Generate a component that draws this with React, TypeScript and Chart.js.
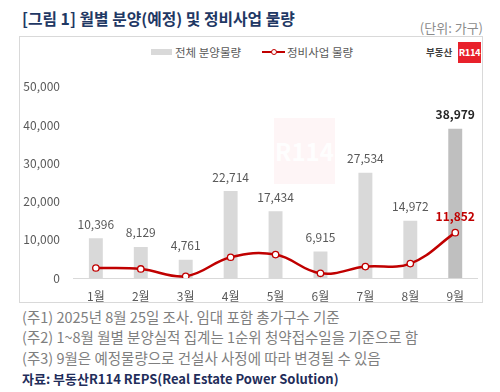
import React, { useEffect, useRef } from "react";
import { Chart, registerables } from "chart.js";

Chart.register(...registerables);

const categories = ["1월", "2월", "3월", "4월", "5월", "6월", "7월", "8월", "9월"];
const totalSupply = [10396, 8129, 4761, 22714, 17434, 6915, 27534, 14972, 38979];
const redevelopment = [2620, 2360, 450, 5420, 6120, 1230, 2980, 3770, 11852];
const yTicks = [0, 10000, 20000, 30000, 40000, 50000];

const FONT = "'Noto Sans CJK KR', 'Noto Sans', sans-serif";
const fmt = (v: number) => v.toLocaleString("en-US");

const labelPlugin = {
  id: "valueLabels",
  afterDatasetsDraw(chart: any) {
    const ctx = chart.ctx;
    ctx.save();
    ctx.textAlign = "center";
    ctx.textBaseline = "middle";
    const barMeta = chart.getDatasetMeta(0);
    barMeta.data.forEach((el: any, i: number) => {
      const last = i === totalSupply.length - 1;
      ctx.font = `${last ? "bold " : ""}12px ${FONT}`;
      ctx.fillStyle = last ? "#262626" : "#595959";
      ctx.fillText(fmt(totalSupply[i]), el.x, el.y - 14);
    });
    const lineMeta = chart.getDatasetMeta(1);
    const li = redevelopment.length - 1;
    const p = lineMeta.data[li];
    ctx.font = `bold 12px ${FONT}`;
    ctx.fillStyle = "#c00000";
    ctx.fillText(fmt(redevelopment[li]), p.x, p.y - 16);
    ctx.restore();
  },
};

export default function App() {
  const ref = useRef<HTMLCanvasElement | null>(null);

  useEffect(() => {
    if (!ref.current) return;
    const chart = new Chart(ref.current, {
      type: "bar",
      data: {
        labels: categories,
        datasets: [
          {
            type: "bar",
            label: "전체 분양물량",
            data: totalSupply,
            backgroundColor: totalSupply.map((_, i) =>
              i === totalSupply.length - 1 ? "#bfbfbf" : "#d9d9d9"
            ),
            barPercentage: 0.62,
            categoryPercentage: 0.5,
            order: 2,
          },
          {
            type: "line",
            label: "정비사업 물량",
            data: redevelopment,
            borderColor: "#c00000",
            borderWidth: 2.5,
            tension: 0.4,
            pointRadius: 3.2,
            pointBorderWidth: 1.3,
            pointBackgroundColor: "#ffffff",
            pointBorderColor: "#c00000",
            order: 1,
          } as any,
        ],
      },
      options: {
        responsive: false,
        animation: false,
        layout: { padding: { top: 49.7, right: 3, bottom: 0, left: 0 } },
        plugins: {
          legend: { display: false },
          tooltip: { enabled: false },
        },
        scales: {
          x: {
            grid: { display: false, drawTicks: false },
            border: { display: true, color: "#d9d9d9", width: 1 },
            ticks: {
              color: "#595959",
              font: { family: FONT, size: 12 },
              padding: 11,
            },
            afterFit: (s: any) => {
              s.height = 24;
            },
          },
          y: {
            min: 0,
            max: 50000,
            grid: { display: false, drawTicks: false },
            border: { display: false },
            afterBuildTicks: (s: any) => {
              s.ticks = yTicks.map((v) => ({ value: v }));
            },
            ticks: {
              color: "#595959",
              font: { family: FONT, size: 12 },
              padding: 13.4,
              callback: (v: any) => fmt(Number(v)),
            },
            afterFit: (s: any) => {
              s.width = 53.4;
            },
          },
        },
      },
      plugins: [labelPlugin],
    });
    return () => chart.destroy();
  }, []);

  const footStyle: React.CSSProperties = {
    position: "absolute",
    left: 22,
    fontFamily: FONT,
    fontSize: 14.5,
    lineHeight: "20.7px",
    color: "#7f7f7f",
    whiteSpace: "nowrap",
  };

  return (
    <div
      style={{
        position: "fixed",
        left: 0,
        top: 0,
        width: 500,
        height: 392,
        background: "#ffffff",
        overflow: "hidden",
        fontFamily: FONT,
      }}
    >
      <div
        style={{
          position: "absolute",
          left: 22,
          top: 8.5,
          lineHeight: "20px",
          fontSize: 15.8,
          fontWeight: 700,
          color: "#1f3864",
          whiteSpace: "nowrap",
        }}
      >
        [그림 1] 월별 분양(예정) 및 정비사업 물량
      </div>
      <div
        style={{
          position: "absolute",
          right: 17,
          top: 19,
          lineHeight: "18px",
          fontSize: 13,
          color: "#8c8c8c",
          whiteSpace: "nowrap",
        }}
      >
        (단위: 가구)
      </div>
      {/* chart frame */}
      <div
        style={{
          position: "absolute",
          left: 19,
          top: 36,
          width: 464,
          height: 267,
          border: "1px solid #d9d9d9",
          boxSizing: "border-box",
        }}
      />
      {/* watermark */}
      <div
        style={{
          position: "absolute",
          left: 185,
          top: 136,
          fontSize: 26,
          fontWeight: 700,
          lineHeight: "32px",
          color: "rgba(0,0,0,0.022)",
        }}
      >
        부동산
      </div>
      <div
        style={{
          position: "absolute",
          left: 274,
          top: 118,
          width: 61,
          height: 66,
          background: "rgba(232,33,43,0.045)",
          color: "rgba(255,255,255,0.95)",
          fontWeight: 700,
          fontSize: 24,
          lineHeight: "66px",
          textAlign: "center",
        }}
      >
        R114
      </div>
      {/* legend */}
      <div
        style={{
          position: "absolute",
          left: 151,
          top: 49,
          width: 21,
          height: 6,
          background: "#d9d9d9",
        }}
      />
      <div
        style={{
          position: "absolute",
          left: 175,
          top: 44,
          fontSize: 11.5,
          lineHeight: "16px",
          color: "#595959",
          whiteSpace: "nowrap",
        }}
      >
        전체 분양물량
      </div>
      <div
        style={{
          position: "absolute",
          left: 262,
          top: 51,
          width: 23,
          height: 2,
          background: "#c00000",
        }}
      />
      <div
        style={{
          position: "absolute",
          left: 270.5,
          top: 49,
          width: 4,
          height: 4,
          borderRadius: "50%",
          border: "1px solid #c00000",
          background: "#fff",
        }}
      />
      <div
        style={{
          position: "absolute",
          left: 287,
          top: 44,
          fontSize: 11.5,
          lineHeight: "16px",
          color: "#595959",
          whiteSpace: "nowrap",
        }}
      >
        정비사업 물량
      </div>
      {/* logo */}
      <div
        style={{
          position: "absolute",
          left: 426,
          top: 45,
          fontSize: 9.5,
          fontWeight: 700,
          lineHeight: "14px",
          color: "#404040",
          whiteSpace: "nowrap",
        }}
      >
        부동산
      </div>
      <div
        style={{
          position: "absolute",
          left: 458,
          top: 42,
          width: 23,
          height: 21,
          background: "#e8212b",
          color: "#ffffff",
          fontWeight: 700,
          fontSize: 9.5,
          lineHeight: "21px",
          textAlign: "center",
          letterSpacing: -0.5,
        }}
      >
        R114
      </div>
      <canvas
        ref={ref}
        width={463}
        height={265}
        style={{ position: "absolute", left: 20, top: 37, width: 463, height: 265 }}
      />
      <div style={{ ...footStyle, top: 306.6 }}>
        (주1) 2025년 8월 25일 조사. 임대 포함 총가구수 기준
      </div>
      <div style={{ ...footStyle, top: 327.3 }}>
        (주2) 1~8월 월별 분양실적 집계는 1순위 청약접수일을 기준으로 함
      </div>
      <div style={{ ...footStyle, top: 348 }}>
        (주3) 9월은 예정물량으로 건설사 사정에 따라 변경될 수 있음
      </div>
      <div
        style={{
          ...footStyle,
          top: 368.7,
          fontSize: 13,
          color: "#1f2d5a",
          fontWeight: 700,
        }}
      >
        자료: 부동산R114 REPS(Real Estate Power Solution)
      </div>
    </div>
  );
}
